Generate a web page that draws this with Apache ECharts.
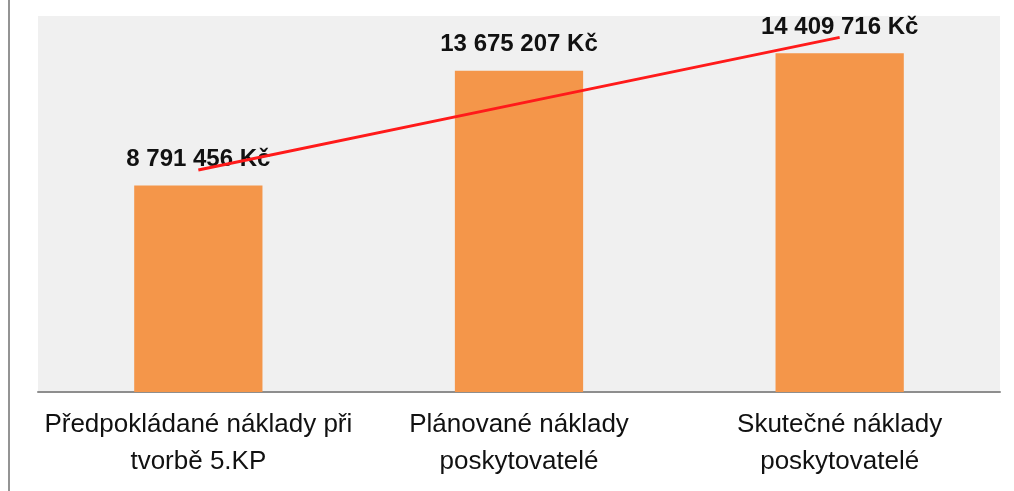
<!DOCTYPE html>
<html>
<head>
<meta charset="utf-8">
<script src="https://cdn.jsdelivr.net/npm/echarts@6/dist/echarts.min.js"></script>
<style>
  html, body { margin: 0; padding: 0; background: #fff; }
  #chart { width: 1014px; height: 491px; }
</style>
</head>
<body>
<div id="chart"></div>
<script>
// kategorie (osa x)
var categories = [
  'Předpokládané náklady při\ntvorbě 5.KP',
  'Plánované náklady\nposkytovatelé',
  'Skutečné náklady\nposkytovatelé'
];
// náklady v Kč
var costs = [8791456, 13675207, 14409716];
// spojnice trendu
var trend = [9450000, 12270000, 15090000];

function fmtKc(v) {
  return String(v).replace(/\B(?=(\d{3})+(?!\d))/g, ' ') + ' Kč';
}

var myChart = echarts.init(document.getElementById('chart'));
var option = {
  animation: false,
  backgroundColor: '#ffffff',
  grid: {
    left: 38,
    right: 14,
    top: 16,
    bottom: 99,
    show: true,
    backgroundColor: '#f0f0f0',
    borderWidth: 0
  },
  xAxis: {
    type: 'category',
    data: categories,
    axisTick: { show: false },
    axisLine: { lineStyle: { color: '#8e8e8e', width: 2 } },
    axisLabel: {
      interval: 0,
      margin: 14,
      color: '#111111',
      fontFamily: 'Liberation Sans',
      fontSize: 26,
      lineHeight: 37
    }
  },
  yAxis: {
    type: 'value',
    min: 0,
    max: 16000000,
    show: false,
    splitLine: { show: false }
  },
  series: [
    {
      type: 'bar',
      data: costs,
      barWidth: '40%',
      z: 2,
      itemStyle: { color: '#f4964a' },
      label: {
        show: true,
        position: 'top',
        distance: 14,
        color: '#111111',
        fontFamily: 'Liberation Sans',
        fontWeight: 'bold',
        fontSize: 24,
        formatter: function (p) { return fmtKc(p.value); }
      }
    },
    {
      type: 'line',
      data: trend,
      z: 5,
      symbol: 'none',
      lineStyle: { color: '#ff1a1a', width: 3 }
    }
  ],
  graphic: [
    {
      type: 'line',
      shape: { x1: 9, y1: 0, x2: 9, y2: 491 },
      style: { stroke: '#949494', lineWidth: 2 }
    }
  ]
};
myChart.setOption(option);
</script>
</body>
</html>
